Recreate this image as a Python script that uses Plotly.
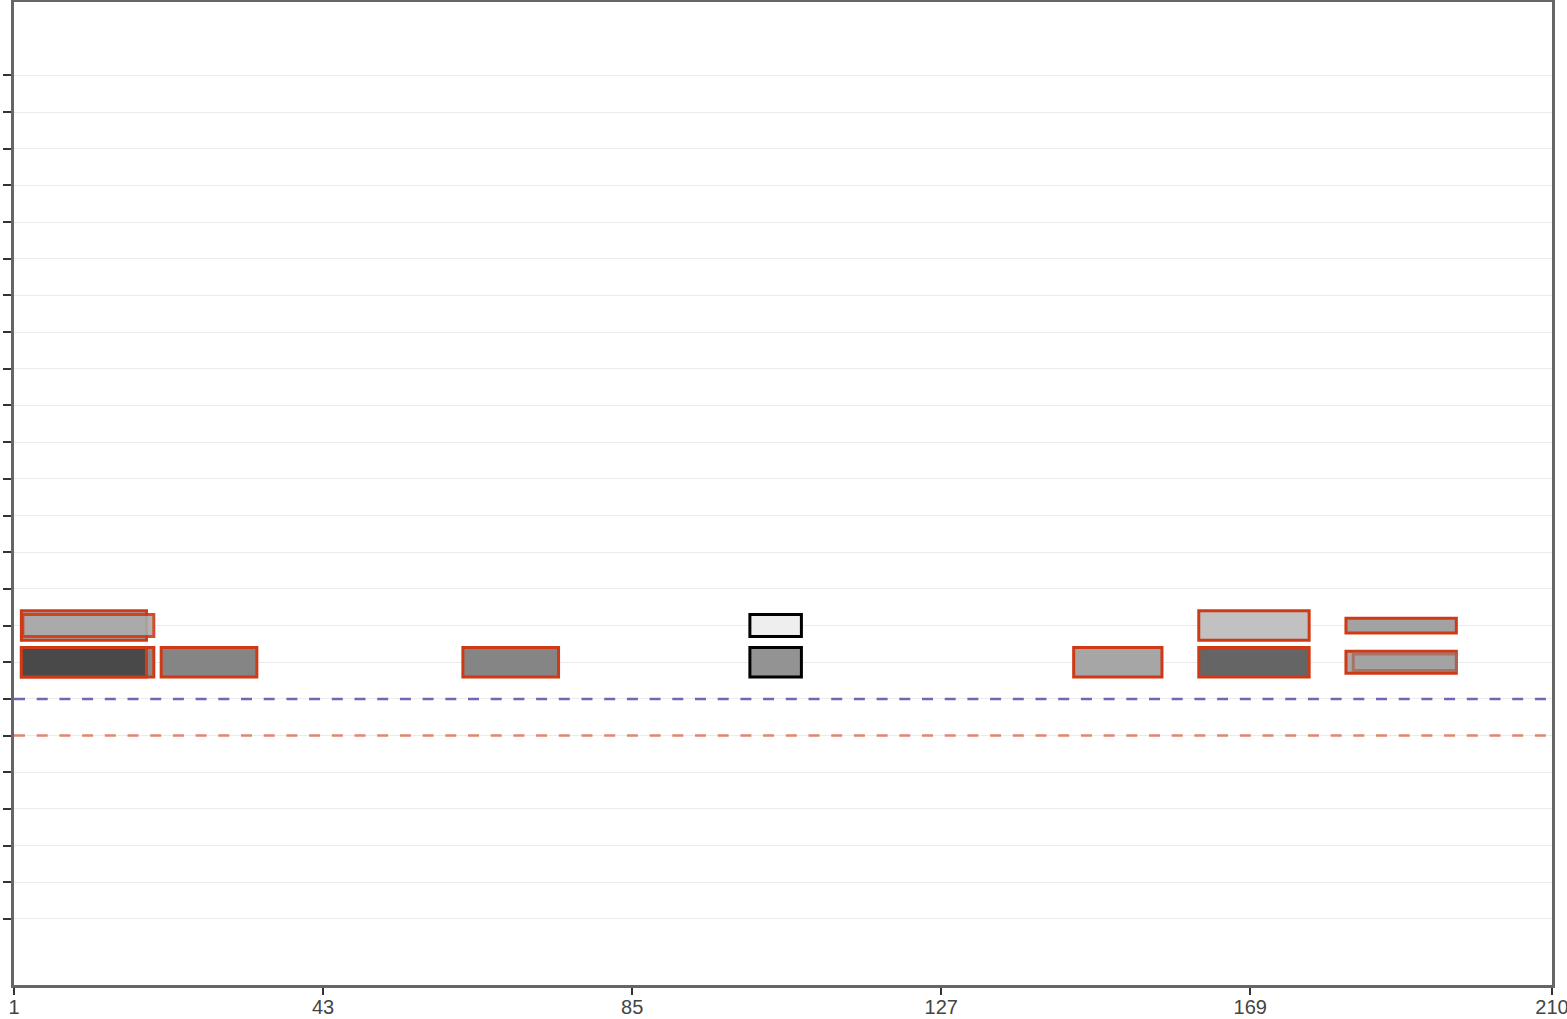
import plotly.graph_objects as go

# ---- data ----
x_ticks = [1, 43, 85, 127, 169, 210]
row_ticks = list(range(0, 24))
row_labels = [str(r + 1) for r in row_ticks]

feat_start = [2, 2, 21, 62, 101, 145, 162, 182, 183, 2, 2.2, 101, 162, 182]
feat_end = [20, 19, 34, 75, 108, 157, 177, 197, 197, 19, 20, 108, 177, 197]
feat_row = [7, 7, 7, 7, 7, 7, 7, 7, 7, 8, 8, 8, 8, 8]
feat_height = [0.8, 0.8, 0.8, 0.8, 0.8, 0.8, 0.8, 0.6, 0.45, 0.8, 0.6, 0.6, 0.8, 0.4]
feat_fill = ["#8c8c8c", "#444444", "#858585", "#858585", "#939393", "#a6a6a6",
             "#656565", "#a8a8a8", "#a3a3a3", "#aaaaaa", "#ababab", "#eeeeee",
             "#c1c1c1", "#a2a2a2"]
feat_border = ["#cf3a16", "#cf3a16", "#cf3a16", "#cf3a16", "#000000", "#cf3a16",
               "#cf3a16", "#cf3a16", "#a86a5c", "#cf3a16", "#cf3a16", "#000000",
               "#cf3a16", "#cf3a16"]
feat_alpha = [1, 0.93, 1, 1, 1, 1, 1, 1, 0.85, 1, 0.9, 1, 1, 1]

ref_rows = [6, 5]
ref_colors = ["#7a63b2", "#e08672"]

fig = go.Figure()
# invisible trace to establish axes
fig.add_trace(go.Scatter(x=[x_ticks[0], x_ticks[-1]], y=[row_ticks[0], row_ticks[-1]],
                         mode="markers", marker=dict(opacity=0), hoverinfo="skip",
                         showlegend=False))

shapes = []
for yv, col in zip(ref_rows, ref_colors):
    shapes.append(dict(type="line", xref="x", yref="y", x0=x_ticks[0], x1=x_ticks[-1],
                       y0=yv, y1=yv, line=dict(color=col, width=2.5, dash="11px,11.7px"),
                       layer="above"))
for s, e, r, h, f, b, a in zip(feat_start, feat_end, feat_row, feat_height,
                               feat_fill, feat_border, feat_alpha):
    shapes.append(dict(type="rect", xref="x", yref="y", x0=s, x1=e,
                       y0=r - h / 2, y1=r + h / 2, fillcolor=f,
                       line=dict(color=b, width=3), opacity=a, layer="above"))

fig.update_layout(
    width=1567, height=1019,
    margin=dict(l=14, r=15, t=2, b=34),
    paper_bgcolor="white", plot_bgcolor="white",
    showlegend=False,
    shapes=shapes,
    font=dict(family="Liberation Sans, Arial, sans-serif", size=20, color="#444444"),
)
fig.update_xaxes(range=[1, 210], tickvals=x_ticks, ticktext=[str(v) for v in x_ticks],
                 showgrid=True, gridcolor="white", gridwidth=1, zeroline=False,
                 showline=True, linecolor="#666666", linewidth=3, mirror=True,
                 ticks="outside", ticklen=7, tickwidth=2, tickcolor="#333333",
                 automargin=False, ticklabeloverflow="allow", ticklabelstandoff=-5,
                 tickfont=dict(size=20, color="#444444"))
fig.update_yaxes(range=[-1.8, 25], tickvals=row_ticks, ticktext=row_labels,
                 showgrid=True, gridcolor="#ebebeb", gridwidth=1, zeroline=False,
                 showline=True, linecolor="#666666", linewidth=3, mirror=True,
                 ticks="outside", ticklen=8, tickwidth=2, tickcolor="#333333",
                 automargin=False, ticklabelstandoff=6,
                 tickfont=dict(size=12, color="#dddddd"))

fig.write_html("out.html", config={"displayModeBar": False},
               post_script="document.body.style.margin='0';document.body.style.overflow='hidden';")
